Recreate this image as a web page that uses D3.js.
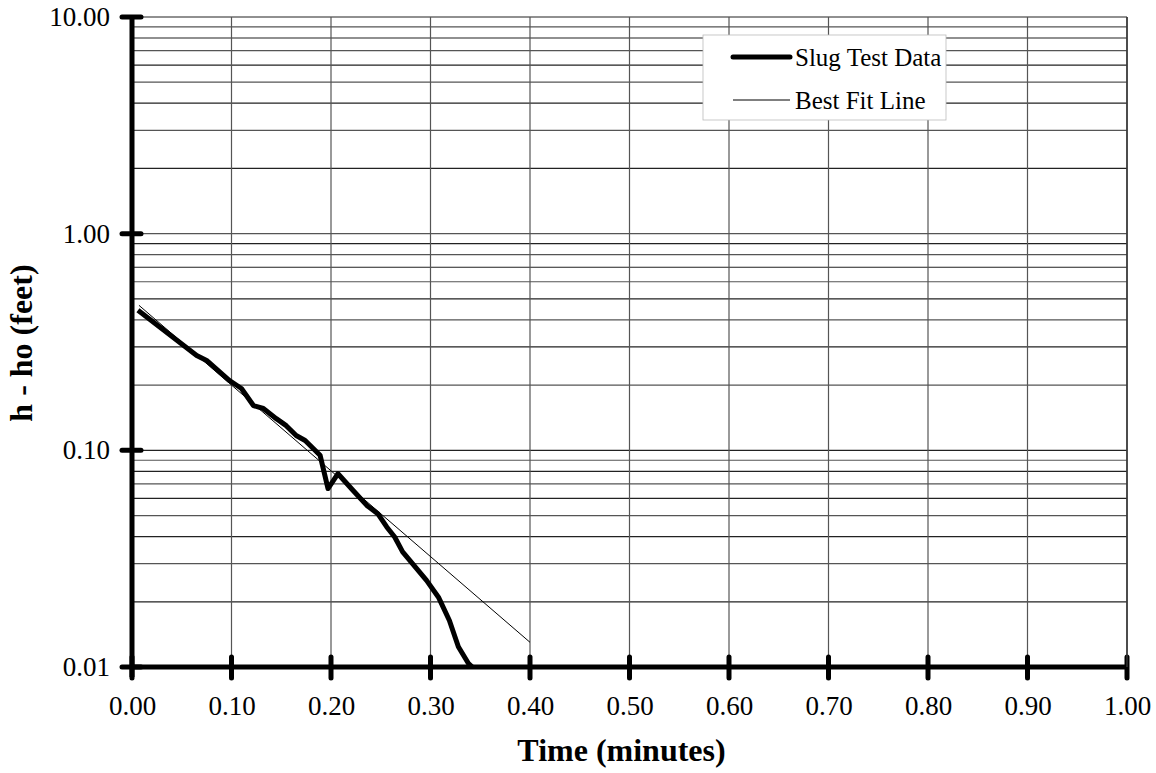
<!DOCTYPE html>
<html>
<head>
<meta charset="utf-8">
<script src="https://cdn.jsdelivr.net/npm/d3@7"></script>
<style>
  body { margin: 0; background: #fff; }
  text { font-family: "Liberation Serif", "Times New Roman", serif; fill: #000; }
</style>
</head>
<body>
<div class="svg-content"></div>
<script>
// slug test readings (minutes, feet)
const slugTime = [0.006, 0.065, 0.075, 0.098, 0.110, 0.122, 0.132, 0.145, 0.155, 0.165, 0.174, 0.189, 0.197, 0.207, 0.222, 0.236, 0.247, 0.256, 0.264, 0.272, 0.296, 0.308, 0.319, 0.328, 0.338, 0.342];
const slugHead = [0.443, 0.274, 0.260, 0.210, 0.193, 0.161, 0.156, 0.140, 0.130, 0.117, 0.111, 0.095, 0.0666, 0.078, 0.0654, 0.0557, 0.051, 0.0443, 0.0398, 0.034, 0.0251, 0.021, 0.0164, 0.0124, 0.0104, 0.0100];

const fitTime = [0.007, 0.40];
const fitHead = [0.467, 0.013];

const xTicks = [0, 0.1, 0.2, 0.3, 0.4, 0.5, 0.6, 0.7, 0.8, 0.9, 1.0];
const yTicks = [0.01, 0.1, 1, 10];
const seriesNames = ["Slug Test Data", "Best Fit Line"];

const svgWidth = 1156;
const svgHeight = 773;
const plotLeft = 132, plotRight = 1127, plotTop = 17, plotBottom = 667;

let svg = d3.select(".svg-content")
            .append("svg")
            .attr("width", svgWidth)
            .attr("height", svgHeight);

const xScale = d3.scaleLinear().domain([0, 1]).range([plotLeft, plotRight]);
const yScale = d3.scaleLog().domain([0.01, 10]).range([plotBottom, plotTop]);

// minor log grid
let gridY = [];
[0.01, 0.1, 1].forEach(d => {
  for (let k = 1; k <= 9; k++) gridY.push(d * k);
});
gridY.push(10);

svg.append("g")
   .selectAll("line")
   .data(gridY)
   .enter()
   .append("line")
   .attr("x1", plotLeft)
   .attr("x2", plotRight)
   .attr("y1", d => yScale(d))
   .attr("y2", d => yScale(d))
   .attr("stroke", (d, i) => i % 2 ? "#222" : "#555")
   .attr("stroke-width", 1.2);

svg.append("g")
   .selectAll("line")
   .data(xTicks.slice(1))
   .enter()
   .append("line")
   .attr("x1", d => xScale(d))
   .attr("x2", d => xScale(d))
   .attr("y1", plotTop)
   .attr("y2", plotBottom)
   .attr("stroke", "#555")
   .attr("stroke-width", 1.2);

// axes
const xAxis = d3.axisBottom(xScale)
                .tickValues(xTicks)
                .tickFormat(d3.format(".2f"))
                .tickSize(0)
                .tickPadding(29);

const yAxis = d3.axisLeft(yScale)
                .tickValues(yTicks)
                .tickFormat(d3.format(".2f"))
                .tickSize(0)
                .tickPadding(22);

let gx = svg.append("g")
   .attr("transform", "translate(0," + plotBottom + ")")
   .call(xAxis);
gx.select(".domain").remove();
gx.selectAll("text").attr("font-size", 27).attr("font-family", "Liberation Serif");

let gy = svg.append("g")
   .attr("transform", "translate(" + plotLeft + ",0)")
   .call(yAxis);
gy.select(".domain").remove();
gy.selectAll("text").attr("font-size", 27).attr("font-family", "Liberation Serif");

svg.append("line")
   .attr("x1", plotLeft).attr("x2", plotRight + 2)
   .attr("y1", plotBottom).attr("y2", plotBottom)
   .attr("stroke", "#000").attr("stroke-width", 5);

svg.append("line")
   .attr("x1", plotLeft).attr("x2", plotLeft)
   .attr("y1", plotTop - 1).attr("y2", plotBottom + 10)
   .attr("stroke", "#000").attr("stroke-width", 5);

svg.append("g")
   .selectAll("line")
   .data(xTicks)
   .enter()
   .append("line")
   .attr("x1", d => xScale(d))
   .attr("x2", d => xScale(d))
   .attr("y1", plotBottom - 10)
   .attr("y2", plotBottom + 11)
   .attr("stroke", "#000")
   .attr("stroke-width", 5)
   .attr("stroke-linecap", "round");

svg.append("g")
   .selectAll("line")
   .data(yTicks)
   .enter()
   .append("line")
   .attr("x1", plotLeft - 10)
   .attr("x2", plotLeft + 9)
   .attr("y1", d => yScale(d))
   .attr("y2", d => yScale(d))
   .attr("stroke", "#000")
   .attr("stroke-width", 5)
   .attr("stroke-linecap", "round");

// right frame
svg.append("line")
   .attr("x1", plotRight).attr("x2", plotRight)
   .attr("y1", plotTop).attr("y2", plotBottom)
   .attr("stroke", "#333").attr("stroke-width", 1.5);

// series
const line = d3.line()
               .x(d => xScale(d[0]))
               .y(d => yScale(d[1]));

svg.append("path")
   .datum(fitTime.map((t, i) => [t, fitHead[i]]))
   .attr("d", line)
   .attr("fill", "none")
   .attr("stroke", "#000")
   .attr("stroke-width", 1);

svg.append("path")
   .datum(slugTime.map((t, i) => [t, slugHead[i]]))
   .attr("d", line)
   .attr("fill", "none")
   .attr("stroke", "#000")
   .attr("stroke-width", 5)
   .attr("stroke-linejoin", "round");

// legend
let legend = svg.append("g");
legend.append("rect")
      .attr("x", 703).attr("y", 35)
      .attr("width", 243).attr("height", 85)
      .attr("fill", "#fff")
      .attr("stroke", "#bbb")
      .attr("stroke-width", 0.8);

seriesNames.forEach((name, i) => {
  const y = 57 + i * 43;
  legend.append("line")
        .attr("x1", 733).attr("x2", 790)
        .attr("y1", y).attr("y2", y)
        .attr("stroke", "#000")
        .attr("stroke-width", i === 0 ? 5 : 1)
        .attr("stroke-linecap", i === 0 ? "round" : "butt");
  legend.append("text")
        .attr("x", 795)
        .attr("y", y + 9)
        .attr("font-size", 25)
        .text(name);
});

// titles
svg.append("text")
   .attr("x", (plotLeft + plotRight) / 2 - 8)
   .attr("y", 761)
   .attr("text-anchor", "middle")
   .attr("font-size", 32)
   .attr("font-weight", "bold")
   .text("Time (minutes)");

svg.append("text")
   .attr("transform", "translate(32,343) rotate(-90)")
   .attr("text-anchor", "middle")
   .attr("font-size", 32)
   .attr("font-weight", "bold")
   .text("h - ho (feet)");
</script>
</body>
</html>
